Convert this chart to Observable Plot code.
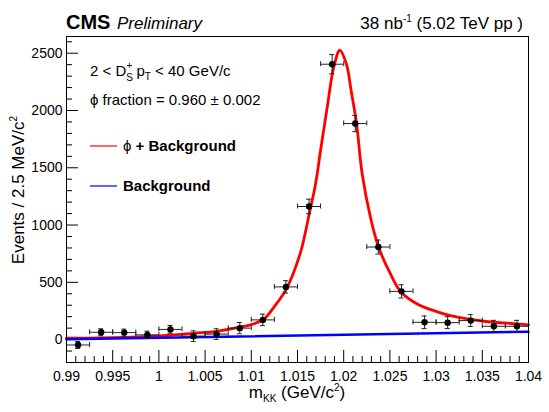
<!DOCTYPE html>
<html>
<head>
<meta charset="utf-8">
<script src="https://cdn.jsdelivr.net/npm/d3@7"></script>
<script src="https://cdn.jsdelivr.net/npm/@observablehq/plot@0.6"></script>
<style>
  html, body { margin: 0; padding: 0; background: white; }
  svg { display: block; }
</style>
</head>
<body>
<div id="chart"></div>
<script>
// ---- data ----
const binCenters = [0.99125, 0.99375, 0.99625, 0.99875, 1.00125, 1.00375, 1.00625, 1.00875, 1.01125, 1.01375,
                    1.01625, 1.01875, 1.02125, 1.02375, 1.02625, 1.02875, 1.03125, 1.03375, 1.03625, 1.03875];
const counts = [-47, 64, 61, 41, 89, 30, 48, 100, 172, 460, 1162, 2404, 1886, 808, 421, 151, 148, 166, 116, 116];
const errors = [30, 30, 30, 32, 34, 46, 46, 49, 50, 54, 64, 84, 71, 61, 58, 55, 52, 52, 52, 52];
const binHalfWidth = 0.00125;

const fitMass  = [0.99, 0.99368, 0.99801, 1.00126, 1.00378, 1.00631, 1.00883, 1.00991, 1.01135, 1.01244,
                  1.01381, 1.01532, 1.01630, 1.01695, 1.01749, 1.01821, 1.01893, 1.01958, 1.02030, 1.02081,
                  1.02139, 1.02200, 1.02290, 1.02377, 1.02506, 1.02615, 1.02795, 1.02975, 1.03156, 1.03516,
                  1.03878, 1.04];
const fitTotal = [12, 15, 24, 38, 55, 72, 110, 128, 178, 282,
                  445, 760, 1110, 1357, 1648, 2025, 2380, 2526, 2404, 2171,
                  1886, 1445, 1066, 808, 573, 420, 311, 253, 209, 160,
                  137, 128];
const bkgMass  = [0.99, 1.04];
const bkgValue = [3, 69];

const xTicks = [0.99, 0.995, 1.0, 1.005, 1.01, 1.015, 1.02, 1.025, 1.03, 1.035, 1.04];
const xTickLabels = ["0.99", "0.995", "1", "1.005", "1.01", "1.015", "1.02", "1.025", "1.03", "1.035", "1.04"];
const xMinorTicks = d3.range(0, 51).map(i => 0.99 + i * 0.001).filter((d, i) => i % 5 !== 0);
const yTicks = [0, 500, 1000, 1500, 2000, 2500];
const yTickLabels = ["0", "500", "1000", "1500", "2000", "2500"];
const yMinorTicks = [-100, 100, 200, 300, 400, 600, 700, 800, 900, 1100, 1200, 1300, 1400,
                     1600, 1700, 1800, 1900, 2100, 2200, 2300, 2400, 2600];

// ---- layout ----
const W = 549, H = 412;
const mL = 66, mR = 21, mT = 36, mB = 50;
const xDom = [0.99, 1.04], yDom = [-200, 2646];
const pxX = (W - mL - mR) / (xDom[1] - xDom[0]);
const pxY = (H - mT - mB) / (yDom[1] - yDom[0]);
const font = "'Liberation Sans', Arial, Helvetica, sans-serif";

const pts = binCenters.map((x, i) => ({x, y: counts[i], e: errors[i]}));
const fit = fitMass.map((x, i) => ({x, y: fitTotal[i]}));
const bkg = bkgMass.map((x, i) => ({x, y: bkgValue[i]}));

const majorLen = 12, minorLen = 6, cap = 2.5;
const errColor = "#222";

const svg = Plot.plot({
  width: W, height: H,
  marginLeft: mL, marginRight: mR, marginTop: mT, marginBottom: mB,
  x: {domain: xDom, axis: null},
  y: {domain: yDom, axis: null},
  style: {fontFamily: font, background: "white", color: "black"},
  marks: [
    // ticks (inside the frame)
    Plot.ruleY(yTicks, {y: d => d, x1: xDom[0], x2: xDom[0] + majorLen / pxX, stroke: "black"}),
    Plot.ruleY(yMinorTicks, {y: d => d, x1: xDom[0], x2: xDom[0] + minorLen / pxX, stroke: "black"}),
    Plot.ruleX(xTicks, {x: d => d, y1: yDom[0], y2: yDom[0] + majorLen / pxY, stroke: "black"}),
    Plot.ruleX(xMinorTicks, {x: d => d, y1: yDom[0], y2: yDom[0] + minorLen / pxY, stroke: "black"}),
    // tick labels
    Plot.text(xTicks, {x: d => d, text: (d, i) => xTickLabels[i], frameAnchor: "bottom", lineAnchor: "bottom",
                       dy: 18, fontSize: 14, fill: "black"}),
    Plot.text(yTicks, {y: d => d, text: (d, i) => yTickLabels[i], frameAnchor: "left", textAnchor: "end",
                       dx: -4, fontSize: 14, fill: "black"}),
    // fit curves
    Plot.line(fit, {x: "x", y: "y", stroke: "#ff0000", strokeWidth: 2.8, curve: "catmull-rom"}),
    Plot.line(bkg, {x: "x", y: "y", stroke: "#0000ff", strokeWidth: 2.5}),
    // error bars
    Plot.ruleX(pts, {x: "x", y1: d => d.y - d.e, y2: d => d.y + d.e, stroke: errColor, strokeWidth: 1}),
    Plot.ruleY(pts, {y: "y", x1: d => d.x - binHalfWidth, x2: d => d.x + binHalfWidth, stroke: errColor, strokeWidth: 1}),
    Plot.ruleY(pts, {y: d => d.y + d.e, x1: d => d.x - cap / pxX, x2: d => d.x + cap / pxX, stroke: errColor}),
    Plot.ruleY(pts, {y: d => d.y - d.e, x1: d => d.x - cap / pxX, x2: d => d.x + cap / pxX, stroke: errColor}),
    Plot.ruleX(pts, {x: d => d.x - binHalfWidth, y1: d => d.y - cap / pxY, y2: d => d.y + cap / pxY, stroke: errColor}),
    Plot.ruleX(pts, {x: d => d.x + binHalfWidth, y1: d => d.y - cap / pxY, y2: d => d.y + cap / pxY, stroke: errColor}),
    Plot.dot(pts, {x: "x", y: "y", r: 3.2, fill: "black", stroke: null}),
    Plot.frame({stroke: "black", strokeWidth: 1})
  ]
});

document.getElementById("chart").appendChild(svg);

// ---- rich text (titles, labels, annotations, legend) ----
const s = d3.select(svg);
function rich(x, y, parts, opts = {}) {
  const t = s.append("text")
    .attr("x", x).attr("y", y)
    .attr("font-family", font)
    .attr("font-size", opts.size || 15)
    .attr("font-weight", opts.weight || "normal")
    .attr("font-style", opts.style || "normal")
    .attr("text-anchor", opts.anchor || "start")
    .attr("fill", "black");
  if (opts.transform) t.attr("transform", opts.transform);
  for (const p of parts) {
    const ts = t.append("tspan").text(p.t);
    if (p.size) ts.attr("font-size", p.size);
    if (p.dy) ts.attr("dy", p.dy);
    if (p.dx) ts.attr("dx", p.dx);
    if (p.style) ts.attr("font-style", p.style);
    if (p.weight) ts.attr("font-weight", p.weight);
  }
  return t;
}

// header
rich(66, 29, [{t: "CMS"}], {size: 20, weight: "bold"});
rich(117, 29, [{t: "Preliminary"}], {size: 17, style: "italic"});
rich(523, 29, [{t: "38 nb"}, {t: "-1", size: 10, dy: -7}, {t: " (5.02 TeV pp )", dy: 7}], {size: 17, anchor: "end"});

// axis titles
rich(297, 398, [{t: "m"}, {t: "KK", size: 10, dy: 4}, {t: " (GeV/c", dy: -4}, {t: "2", size: 10, dy: -7}, {t: ")", dy: 7}],
     {size: 17, anchor: "middle"});
rich(0, 0, [{t: "Events / 2.5 MeV/c"}, {t: "2", size: 10, dy: -7}],
     {size: 17, anchor: "middle", transform: "translate(24,190) rotate(-90)"});

// annotations
rich(90, 76, [{t: "2 < D"}, {t: "S", size: 10, dy: 5}, {t: "+", size: 10, dx: -6.5, dy: -12},
              {t: " p", dy: 7}, {t: "T", size: 10, dy: 4}, {t: " < 40 GeV/c", dy: -4}], {size: 15});
rich(90, 105, [{t: "\u03d5 fraction = 0.960 \u00b1 0.002"}], {size: 15});

// legend
s.append("line").attr("x1", 90).attr("x2", 117).attr("y1", 146).attr("y2", 146)
  .attr("stroke", "#ff0000").attr("stroke-width", 1.2);
rich(123, 151, [{t: "\u03d5", weight: "normal"}, {t: " + Background"}], {size: 15, weight: "bold"});
s.append("line").attr("x1", 90).attr("x2", 117).attr("y1", 186).attr("y2", 186)
  .attr("stroke", "#0000ff").attr("stroke-width", 1.2);
rich(123, 191, [{t: "Background"}], {size: 15, weight: "bold"});
</script>
</body>
</html>
